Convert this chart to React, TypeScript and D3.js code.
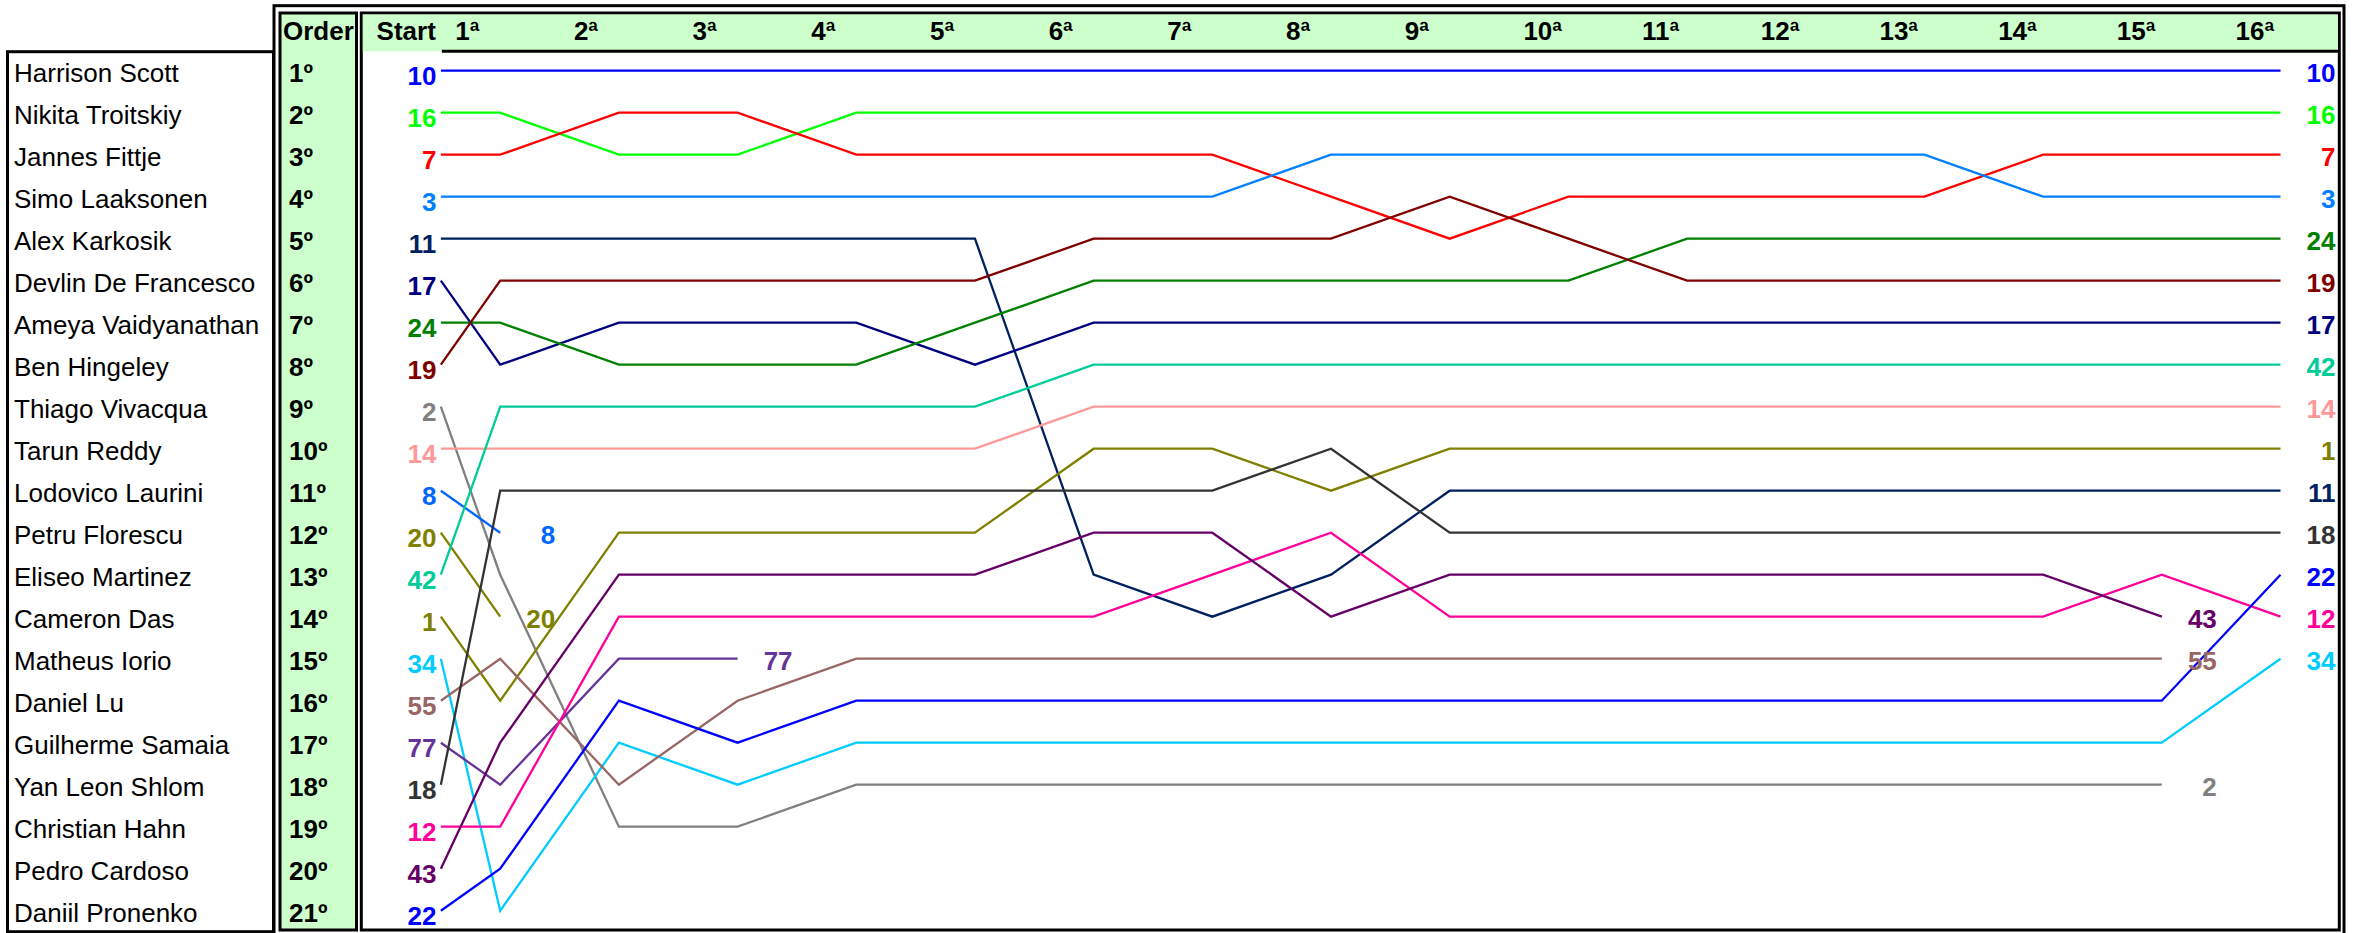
import React, { useEffect } from 'react';
import * as d3 from 'd3';

const W = 2355;
const H = 933;

const driverNames = [
  'Harrison Scott', 'Nikita Troitskiy', 'Jannes Fittje', 'Simo Laaksonen', 'Alex Karkosik',
  'Devlin De Francesco', 'Ameya Vaidyanathan', 'Ben Hingeley', 'Thiago Vivacqua', 'Tarun Reddy',
  'Lodovico Laurini', 'Petru Florescu', 'Eliseo Martinez', 'Cameron Das', 'Matheus Iorio',
  'Daniel Lu', 'Guilherme Samaia', 'Yan Leon Shlom', 'Christian Hahn', 'Pedro Cardoso', 'Daniil Pronenko',
];

const orderLabels = [
  '1º', '2º', '3º', '4º', '5º', '6º', '7º', '8º', '9º', '10º', '11º',
  '12º', '13º', '14º', '15º', '16º', '17º', '18º', '19º', '20º', '21º',
];

const lapLabels = [
  'Start', '1ª', '2ª', '3ª', '4ª', '5ª', '6ª', '7ª', '8ª', '9ª', '10ª',
  '11ª', '12ª', '13ª', '14ª', '15ª', '16ª',
];

const carNumbers = [
  '10', '16', '7', '3', '11', '17', '24', '19', '2', '14', '8',
  '20', '42', '1', '34', '55', '77', '18', '12', '43', '22',
];

const carColors = [
  '#0000FF', '#00FF00', '#FF0000', '#0080FF', '#002060', '#000080', '#008000', '#800000',
  '#808080', '#FF9999', '#0066FF', '#808000', '#00CC99', '#808000', '#00CCFF', '#996666',
  '#663399', '#333333', '#FF0099', '#660066', '#0000FF',
];

// position per car: Start, lap 1 .. lap 16 (null = retired)
const N = null;
const pos10 = [1, 1, 1, 1, 1, 1, 1, 1, 1, 1, 1, 1, 1, 1, 1, 1, 1];
const pos16 = [2, 2, 3, 3, 2, 2, 2, 2, 2, 2, 2, 2, 2, 2, 2, 2, 2];
const pos7 = [3, 3, 2, 2, 3, 3, 3, 3, 4, 5, 4, 4, 4, 4, 3, 3, 3];
const pos3 = [4, 4, 4, 4, 4, 4, 4, 4, 3, 3, 3, 3, 3, 3, 4, 4, 4];
const pos11 = [5, 5, 5, 5, 5, 5, 13, 14, 13, 11, 11, 11, 11, 11, 11, 11, 11];
const pos17 = [6, 8, 7, 7, 7, 8, 7, 7, 7, 7, 7, 7, 7, 7, 7, 7, 7];
const pos24 = [7, 7, 8, 8, 8, 7, 6, 6, 6, 6, 6, 5, 5, 5, 5, 5, 5];
const pos19 = [8, 6, 6, 6, 6, 6, 5, 5, 5, 4, 5, 6, 6, 6, 6, 6, 6];
const pos2 = [9, 13, 19, 19, 18, 18, 18, 18, 18, 18, 18, 18, 18, 18, 18, 18, N];
const pos14 = [10, 10, 10, 10, 10, 10, 9, 9, 9, 9, 9, 9, 9, 9, 9, 9, 9];
const pos8 = [11, 12, N, N, N, N, N, N, N, N, N, N, N, N, N, N, N];
const pos20 = [12, 14, N, N, N, N, N, N, N, N, N, N, N, N, N, N, N];
const pos42 = [13, 9, 9, 9, 9, 9, 8, 8, 8, 8, 8, 8, 8, 8, 8, 8, 8];
const pos1 = [14, 16, 12, 12, 12, 12, 10, 10, 11, 10, 10, 10, 10, 10, 10, 10, 10];
const pos34 = [15, 21, 17, 18, 17, 17, 17, 17, 17, 17, 17, 17, 17, 17, 17, 17, 15];
const pos55 = [16, 15, 18, 16, 15, 15, 15, 15, 15, 15, 15, 15, 15, 15, 15, 15, N];
const pos77 = [17, 18, 15, 15, N, N, N, N, N, N, N, N, N, N, N, N, N];
const pos18 = [18, 11, 11, 11, 11, 11, 11, 11, 10, 12, 12, 12, 12, 12, 12, 12, 12];
const pos12 = [19, 19, 14, 14, 14, 14, 14, 13, 12, 14, 14, 14, 14, 14, 14, 13, 14];
const pos43 = [20, 17, 13, 13, 13, 13, 12, 12, 14, 13, 13, 13, 13, 13, 13, 14, N];
const pos22 = [21, 20, 16, 17, 16, 16, 16, 16, 16, 16, 16, 16, 16, 16, 16, 16, 13];

const positions: (number | null)[][] = [
  pos10, pos16, pos7, pos3, pos11, pos17, pos24, pos19, pos2, pos14, pos8,
  pos20, pos42, pos1, pos34, pos55, pos77, pos18, pos12, pos43, pos22,
];

const FONT = "'Liberation Sans', Arial, sans-serif";
const GREEN = '#CCFFCC';

export default function App() {
  useEffect(() => {
    document.body.style.margin = '0';
  }, []);

  // lap index 0 = Start (half step before lap 1)
  const x = d3.scaleLinear().domain([1, 16]).range([500.2, 2280.5]);
  const lapX = (i: number) => (i === 0 ? x(0.5) : x(i));
  const y = d3.scaleLinear().domain([1, 21]).range([70.7, 910.7]);

  const line = d3
    .line<[number, number | null]>()
    .defined((d) => d[1] !== null)
    .x((d) => lapX(d[0]))
    .y((d) => y(d[1] as number));

  const chartLeft = 361.3;
  const chartRight = 2339.3;
  const boxTop = 13;
  const boxBottom = 930;

  return (
    <svg width={W} height={H} style={{ display: 'block', position: 'absolute', left: 0, top: 0 }}
      fontFamily={FONT}>
      <rect x={0} y={0} width={W} height={H} fill="#fff" />

      {/* names box */}
      <rect x={7.5} y={51.7} width={266} height={880} fill="#fff" stroke="#000" strokeWidth={3} />
      {driverNames.map((n, i) => (
        <text key={n} x={14} y={y(i + 1) + 11} fontSize={26} fill="#000">{n}</text>
      ))}

      {/* outer frame */}
      <rect x={274} y={5.7} width={2070} height={932} fill="#fff" stroke="#000" strokeWidth={3} />

      {/* order box */}
      <rect x={280} y={boxTop} width={76.5} height={boxBottom - boxTop} fill={GREEN} stroke="#000" strokeWidth={3} />
      <text x={283} y={40} fontSize={26} fontWeight="bold" fill="#000">Order</text>
      {orderLabels.map((o, i) => (
        <text key={o} x={289} y={y(i + 1) + 11.5} fontSize={26} fontWeight="bold" fill="#000">{o}</text>
      ))}

      {/* chart box */}
      <rect x={chartLeft} y={boxTop} width={chartRight - chartLeft} height={boxBottom - boxTop}
        fill="#fff" stroke="#000" strokeWidth={3} />
      <rect x={chartLeft + 1.5} y={boxTop + 1.5} width={chartRight - chartLeft - 3} height={51.3 - boxTop - 1.5} fill={GREEN} />
      <line x1={lapX(0) + 1} x2={chartRight} y1={51.3} y2={51.3} stroke="#000" strokeWidth={3} />

      {lapLabels.map((l, i) =>
        i === 0 ? (
          <text key={l} x={lapX(0) - 5} y={40} fontSize={26} fontWeight="bold" textAnchor="end" fill="#000">{l}</text>
        ) : (
          <text key={l} x={lapX(i) - 45} y={40} fontSize={26} fontWeight="bold" fill="#000">{l}</text>
        ),
      )}

      {/* position lines */}
      {positions.map((p, ci) => (
        <path key={carNumbers[ci] + '-' + ci}
          d={line(p.map((v, li) => [li, v] as [number, number | null])) || ''}
          fill="none" stroke={carColors[ci]} strokeWidth={2.3} strokeLinejoin="miter" />
      ))}

      {/* start labels */}
      {positions.map((p, ci) => (
        <text key={'s' + ci} x={lapX(0) - 4.5} y={y(p[0] as number) + 14} fontSize={26} fontWeight="bold"
          textAnchor="end" fill={carColors[ci]}>{carNumbers[ci]}</text>
      ))}

      {/* end labels */}
      {positions.map((p, ci) => {
        let last = 0;
        p.forEach((v, li) => { if (v !== null) last = li; });
        return (
          <text key={'e' + ci} x={lapX(last) + 55} y={y(p[last] as number) + 11.5} fontSize={26} fontWeight="bold"
            textAnchor="end" fill={carColors[ci]}>{carNumbers[ci]}</text>
        );
      })}
    </svg>
  );
}
